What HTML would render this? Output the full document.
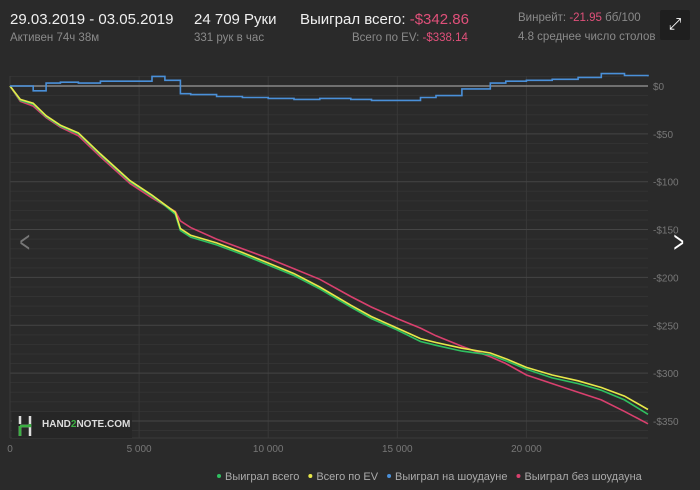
<!DOCTYPE html>
<html><head><meta charset="utf-8">
<style>
body{margin:0;width:700px;height:490px;background:#2a2a2a;font-family:"Liberation Sans",sans-serif;overflow:hidden;position:relative;color:#eee}
.t{position:absolute;white-space:nowrap}
.big{font-size:15px;color:#f0f0f0}
.sm{font-size:11.5px;color:#8a8a8a}
.red{color:#e0507a}
</style></head><body>
<div class="t big" style="left:10px;top:11px">29.03.2019 - 03.05.2019</div>
<div class="t sm" style="left:10px;top:32px">Активен 74ч 38м</div>
<div class="t big" style="left:194px;top:11px">24 709 Руки</div>
<div class="t sm" style="left:194px;top:32px">331 рук в час</div>
<div class="t big" style="left:300px;top:11px">Выиграл всего: <span class="red">-$342.86</span></div>
<div class="t sm" style="left:352px;top:32px">Всего по EV: <span class="red">-$338.14</span></div>
<div class="t sm" style="left:518px;top:12px">Винрейт: <span class="red">-21.95</span> бб/100</div>
<div class="t sm" style="left:518px;top:31px">4.8 среднее число столов</div>
<div style="position:absolute;left:660px;top:10px;width:30px;height:30px;background:#1f1f1f;border-radius:2px;color:#fff;font-size:16px;text-align:center;line-height:30px">⤢</div>
<svg id="c" width="700" height="490" style="position:absolute;left:0;top:0"></svg>
<script>
const hands=[0,400,900,1400,1950,2650,3500,4650,5500,6000,6400,6600,7000,8000,9000,10000,11000,12000,13200,14000,15000,15900,16500,17500,18600,19200,20000,21000,22000,22900,23800,24709];
const green=[0,-15,-19,-32,-42,-50,-72,-100,-115,-125,-134,-151,-158,-166,-176,-187,-198,-212,-231,-243,-255,-267,-271,-277,-281,-287,-296,-305,-311,-318,-328,-343];
const yellow=[0,-14,-18,-31,-41,-49,-71,-99,-114,-124,-132,-149,-156,-164,-174,-185,-196,-210,-229,-241,-253,-264,-268,-274,-279,-285,-294,-302,-308,-315,-324,-338];
const blue=[0,0,-5,3,4,3,5,5,10,6,6,-8,-9,-11,-12,-13,-14,-13,-14,-15,-15,-12,-10,-3,3,5,6,7,9,13,11,10];
const pink=[0,-16,-21,-33,-43,-52,-74,-102,-117,-125,-131,-141,-148,-160,-170,-180,-191,-202,-220,-231,-243,-253,-261,-272,-283,-290,-302,-311,-320,-328,-340,-353];
const yTicks=[0,-50,-100,-150,-200,-250,-300,-350];
const xTicks=[0,5000,10000,15000,20000];
const xLabels=["0","5 000","10 000","15 000","20 000"];
const legendNames=["Выиграл всего","Всего по EV","Выиграл на шоудауне","Выиграл без шоудауна"];
const colors=["#2fc060","#e8e84a","#4a90d9","#d9406e"];
const X=h=>10+h*(638/24709);
const Y=v=>86-v*0.957;
const svg=document.getElementById('c');const NS="http://www.w3.org/2000/svg";
function mk(t,a,p){const e=document.createElementNS(NS,t);for(const k in a)e.setAttribute(k,a[k]);(p||svg).appendChild(e);return e;}
for(let v=10;v>=-360;v-=10){if(v%50===0)continue;const l=mk('line',{x1:10,x2:648,y1:Y(v),y2:Y(v),stroke:'#333',"stroke-width":1});

}
xTicks.forEach((h,i)=>{const l=mk('line',{x1:X(h),x2:X(h),y1:76,y2:438,stroke:'#383838'});


const t=mk('text',{x:X(h),y:452,fill:'#777','font-size':10,'text-anchor':'middle'});t.textContent=xLabels[i];

});
yTicks.forEach(v=>{const l=mk('line',{x1:10,x2:648,y1:Y(v),y2:Y(v),stroke:v===0?'#888':'#454545','stroke-width':v===0?1.5:1});


const t=mk('text',{x:653,y:Y(v)+4,fill:'#777','font-size':10});t.textContent=(v===0?'$0':'-$'+(-v));

});
mk('line',{x1:10,x2:10,y1:76,y2:438,stroke:'#3a3a3a'});
mk('line',{x1:10,x2:648,y1:438,y2:438,stroke:'#3a3a3a'});
const series=[green,yellow,blue,pink];
[3,0,1,2].forEach(i=>{let d;
if(i===2){d='M'+X(hands[0]).toFixed(1)+','+Y(series[i][0]).toFixed(1);
for(let j=1;j<hands.length;j++){d+='H'+X(hands[j]).toFixed(1)+'V'+Y(series[i][j]).toFixed(1);}}
else d=series[i].map((v,j)=>(j?'L':'M')+X(hands[j]).toFixed(1)+','+Y(v).toFixed(1)).join('');
const p=mk('path',{d:d,fill:'none',stroke:colors[i],'stroke-width':1.6});

});
let lx=219;legendNames.forEach((n,i)=>{const c=mk('circle',{cx:lx,cy:476,r:2,fill:colors[i]});


const t=mk('text',{x:lx+6,y:480,fill:'#aaa','font-size':11});t.textContent=n;


lx+=t.getComputedTextLength()+17;});
</script>
<div style="position:absolute;left:12px;top:412px;width:120px;height:26px;background:#262626">
<svg width="24" height="24" style="position:absolute;left:5px;top:2px"><path d="M3 2v8 M3 12v10 M13 2v8 M13 14v8 M3 12h10 M13 10v4" stroke="#ddd" stroke-width="2.5" fill="none"/><path d="M3 12v10 M3 12h10 v-2" stroke="#3cb043" stroke-width="2.5" fill="none"/></svg>
<div class="t" style="left:30px;top:7px;font-size:10px;font-weight:bold;color:#ddd">HAND<span style="color:#3cb043">2</span>NOTE.COM</div></div>
<div class="t" style="left:16px;top:226px;font-size:30px;color:#777;transform:scaleX(0.6)">&lt;</div>
<div class="t" style="left:670px;top:226px;font-size:30px;color:#fff;transform:scaleX(0.6)">&gt;</div>
</body></html>
